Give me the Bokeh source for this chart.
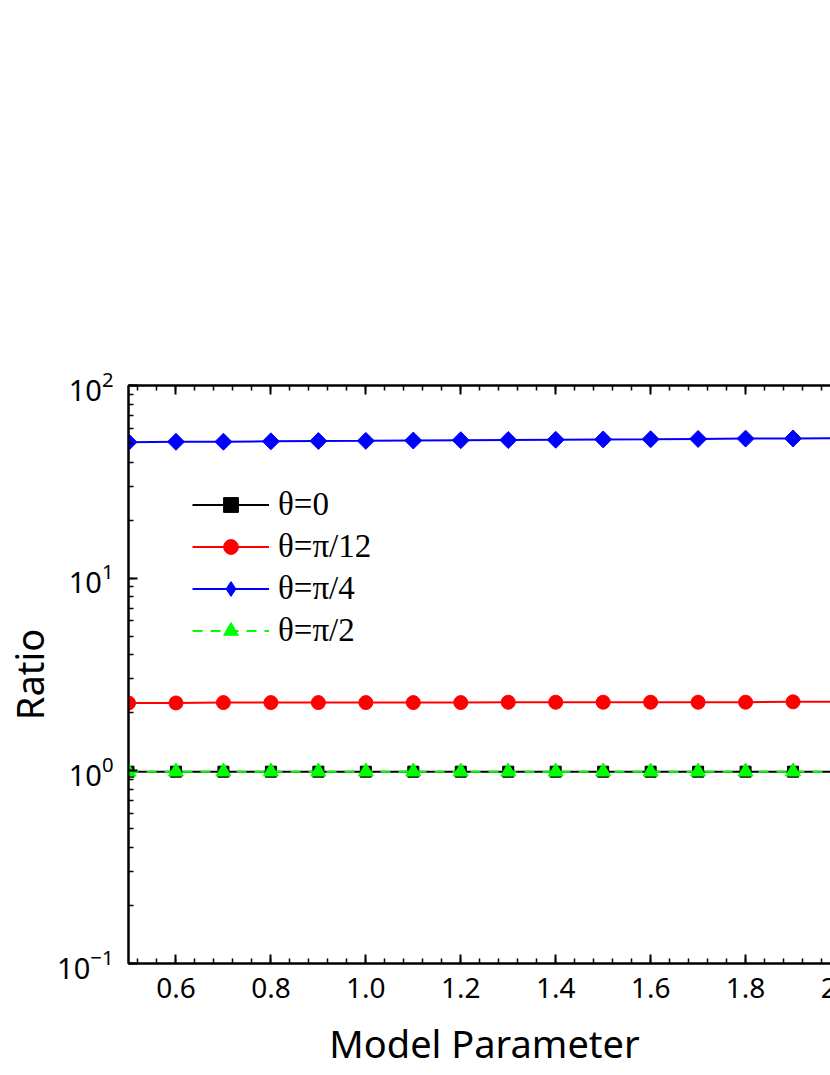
import math
from bokeh.plotting import figure
from bokeh.models import (LinearAxis, LogAxis, Range1d, Legend, LegendItem,
                          SingleIntervalTicker, LogTicker, PrintfTickFormatter)
from bokeh.embed import file_html
from bokeh.resources import INLINE

# ---- data ----
x_vals = [0.5, 0.6, 0.7, 0.8, 0.9, 1.0, 1.1, 1.2, 1.3, 1.4, 1.5,
          1.6, 1.7, 1.8, 1.9, 2.0]
theta_0 = [0.99, 0.99, 0.99, 0.99, 0.99, 0.99, 0.99, 0.99, 0.99, 0.99, 0.99,
           0.99, 0.99, 0.99, 0.99, 0.99]
theta_pi12 = [2.25, 2.25, 2.26, 2.26, 2.26, 2.26, 2.26, 2.26, 2.27, 2.27, 2.27,
              2.27, 2.27, 2.27, 2.28, 2.28]
theta_pi4 = [50.8, 51.0, 51.1, 51.3, 51.5, 51.6, 51.8, 52.0, 52.1, 52.3, 52.5,
             52.6, 52.8, 53.0, 53.1, 53.3]
theta_pi2 = [0.99, 0.99, 0.99, 0.99, 0.99, 0.99, 0.99, 0.99, 0.99, 0.99, 0.99,
             0.99, 0.99, 0.99, 0.99, 0.99]
labels = ["θ=0", "θ=π/12", "θ=π/4", "θ=π/2"]
x_title = "Model Parameter"
y_title = "Ratio"

SANS = "Noto Sans"
SERIF = "Liberation Serif"

p = figure(y_axis_type="log", x_range=Range1d(0.5, 2.0), y_range=Range1d(0.1, 100),
           frame_width=712, frame_height=578,
           min_border_left=120, min_border_top=385, min_border_bottom=110,
           min_border_right=40,
           output_backend="svg", toolbar_location=None)

p.xgrid.visible = False
p.ygrid.visible = False
p.outline_line_color = "black"
p.outline_line_width = 2
p.background_fill_color = "white"
p.border_fill_color = "white"

p.xaxis.ticker = SingleIntervalTicker(interval=0.2, num_minor_ticks=5)
p.xaxis.formatter = PrintfTickFormatter(format="%.1f")
p.yaxis.ticker = LogTicker(num_minor_ticks=10)


def style(ax, labels_on=True):
    ax.axis_line_width = 2
    ax.axis_line_color = "black"
    ax.major_tick_in = 9
    ax.major_tick_out = 0
    ax.minor_tick_in = 5
    ax.minor_tick_out = 0
    ax.major_tick_line_width = 2
    ax.minor_tick_line_width = 1.5
    ax.major_tick_line_color = "black"
    ax.minor_tick_line_color = "black"
    ax.major_label_text_font = SANS
    ax.major_label_text_font_size = "28px"
    ax.major_label_text_color = "black" if labels_on else None
    ax.major_label_standoff = 14
    ax.axis_label_text_font = SANS
    ax.axis_label_text_font_size = "38px"
    ax.axis_label_text_font_style = "normal"
    ax.axis_label_text_color = "black"


style(p.xaxis[0])
style(p.yaxis[0])
p.xaxis.axis_label = x_title
p.xaxis.axis_label_standoff = 16
p.xaxis.major_label_standoff = 14
p.yaxis.axis_label = y_title
p.yaxis.axis_label_standoff = -1
p.yaxis.major_label_standoff = 15
p.yaxis.major_label_text_font_size = "29px"

top = LinearAxis(ticker=SingleIntervalTicker(interval=0.2, num_minor_ticks=5))
style(top, labels_on=False)
top.major_label_text_font_size = "0px"
p.add_layout(top, "above")

right = LogAxis(ticker=LogTicker(num_minor_ticks=10))
style(right, labels_on=False)
right.major_label_text_font_size = "0px"
p.add_layout(right, "right")

l0 = p.line(x_vals, theta_0, line_color="black", line_width=2)
s0 = p.scatter(x_vals, theta_0, marker="square", size=11, color="black")
l1 = p.line(x_vals, theta_pi12, line_color="#ff0000", line_width=2)
s1 = p.scatter(x_vals, theta_pi12, marker="circle", size=14, color="#ff0000")
l2 = p.line(x_vals, theta_pi4, line_color="#0000ff", line_width=2)
# diamond used for the legend glyph, covered by the rotated squares in the plot
s2_leg = p.scatter(x_vals, theta_pi4, marker="diamond", size=15, color="#0000ff")
s2 = p.scatter(x_vals, theta_pi4, marker="square", size=12, angle=math.pi / 4,
               color="#0000ff")
l3 = p.line(x_vals, theta_pi2, line_color="#00ff00", line_width=2, line_dash="10 8")
s3 = p.scatter(x_vals, theta_pi2, marker="triangle", size=15, color="#00ff00")

legend = Legend(items=[LegendItem(label=labels[0], renderers=[l0, s0]),
                       LegendItem(label=labels[1], renderers=[l1, s1]),
                       LegendItem(label=labels[2], renderers=[l2, s2_leg]),
                       LegendItem(label=labels[3], renderers=[l3, s3])],
                location=(64, 314))
legend.border_line_color = None
legend.background_fill_alpha = 0
legend.padding = 0
legend.margin = 0
legend.spacing = 5
legend.glyph_width = 77
legend.glyph_height = 37
legend.label_height = 37
legend.label_standoff = 9
legend.label_text_font = SERIF
legend.label_text_font_size = "33px"
legend.label_text_color = "black"
p.add_layout(legend)

open("out.html", "w").write(file_html(p, INLINE))
